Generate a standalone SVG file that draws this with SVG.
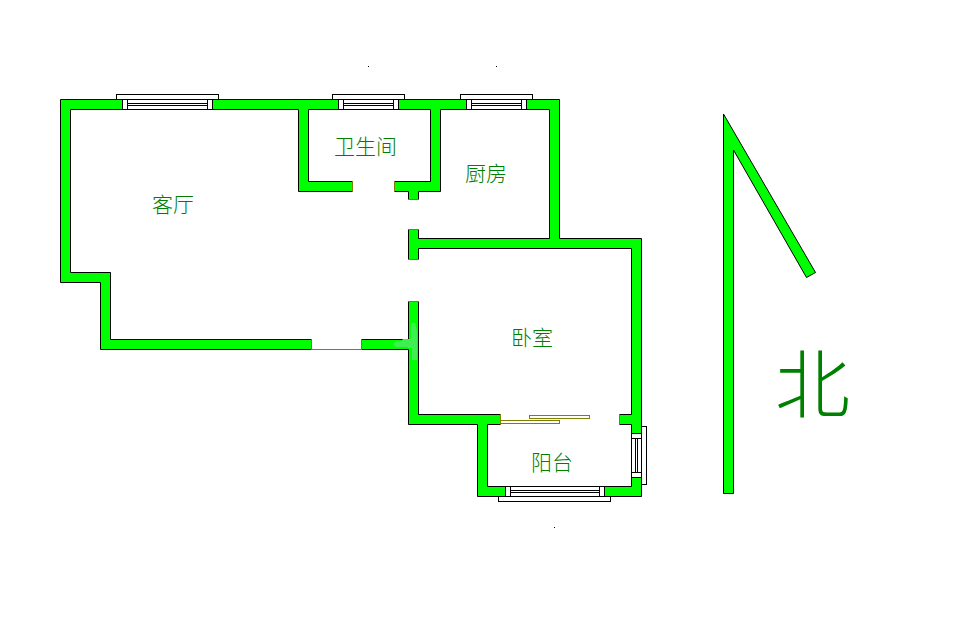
<svg xmlns="http://www.w3.org/2000/svg" width="967" height="636" viewBox="0 0 967 636">
<style>
.wall{fill:#00ff00;stroke:#000;stroke-width:1;stroke-linejoin:miter}
.win{fill:#fff;stroke:#000;stroke-width:1}
.rail{fill:none;stroke:#000;stroke-width:1}
.end{fill:none;stroke:#808000;stroke-width:1}
.door{fill:#fff;stroke:#808000;stroke-width:1}
.label{font-family:"Noto Sans CJK SC",sans-serif;font-size:21px;fill:#008000;font-weight:300}
.north{font-family:"Noto Sans CJK SC",sans-serif;font-size:75px;fill:#008000;font-weight:300}
</style>
<rect width="967" height="636" fill="#fff"/>
<g id="walls">
<polygon class="wall" points="311.5,339.5 110.5,339.5 110.5,272.5 70.5,272.5 70.5,109.5 298.5,109.5 298.5,191.5 352.5,191.5 352.5,181.5 308.5,181.5 308.5,109.5 430.5,109.5 430.5,181.5 394.5,181.5 394.5,191.5 408.5,191.5 408.5,199.5 418.5,199.5 418.5,191.5 440.5,191.5 440.5,109.5 549.5,109.5 549.5,238.5 418.5,238.5 418.5,229.5 408.5,229.5 408.5,259.5 418.5,259.5 418.5,248.5 631.5,248.5 631.5,414.5 619.5,414.5 619.5,424.5 631.5,424.5 631.5,486.5 487.5,486.5 487.5,424.5 500.5,424.5 500.5,414.5 418.5,414.5 418.5,301.5 408.5,301.5 408.5,339.5 361.5,339.5 361.5,349.5 408.5,349.5 408.5,424.5 477.5,424.5 477.5,496.5 641.5,496.5 641.5,238.5 559.5,238.5 559.5,99.5 60.5,99.5 60.5,282.5 100.5,282.5 100.5,349.5 311.5,349.5"/>
<path class="end" d="M311.5 339v11M361.5 339v11M311.5 349.5h50M352.5 181v11M394.5 181v11M408 199.5h11M408 229.5h11M408 259.5h11M408 301.5h11M500.5 414v11M619.5 414v11"/>
<path fill="#3fee50" d="M411 323h4l2 8v29h-5v-12h-4v-1h-12l-3-3 4-3 3 1 3-3h8z"/>
</g>
<g id="window-living">
<rect class="win" x="116.5" y="94.5" width="102" height="5"/>
<rect class="win" x="122.5" y="99.5" width="90" height="10"/>
<path class="rail" d="M127 103.5h81M127 105.5h81"/>
<rect class="win" x="122.5" y="99.5" width="5" height="10"/>
<rect class="win" x="207.5" y="99.5" width="5" height="10"/>
</g>
<g id="window-bath">
<rect class="win" x="332.5" y="94.5" width="72" height="5"/>
<rect class="win" x="338.5" y="99.5" width="60" height="10"/>
<path class="rail" d="M343 103.5h51M343 105.5h51"/>
<rect class="win" x="338.5" y="99.5" width="5" height="10"/>
<rect class="win" x="393.5" y="99.5" width="5" height="10"/>
</g>
<g id="window-kitchen">
<rect class="win" x="460.5" y="94.5" width="72" height="5"/>
<rect class="win" x="466.5" y="99.5" width="60" height="10"/>
<path class="rail" d="M471 103.5h51M471 105.5h51"/>
<rect class="win" x="466.5" y="99.5" width="5" height="10"/>
<rect class="win" x="521.5" y="99.5" width="5" height="10"/>
</g>
<g id="window-balcony-south">
<rect class="win" x="498.5" y="496.5" width="112" height="5"/>
<rect class="win" x="505.5" y="486.5" width="99" height="10"/>
<path class="rail" d="M510 490.5h90M510 492.5h90"/>
<rect class="win" x="505.5" y="486.5" width="5" height="10"/>
<rect class="win" x="599.5" y="486.5" width="5" height="10"/>
</g>
<g id="window-balcony-east">
<rect class="win" x="641.5" y="426.5" width="5" height="58"/>
<rect class="win" x="631.5" y="433.5" width="10" height="44"/>
<path class="rail" d="M635.5 438v35M637.5 438v35"/>
<rect class="win" x="631.5" y="433.5" width="10" height="5"/>
<rect class="win" x="631.5" y="472.5" width="10" height="5"/>
</g>
<g id="sliding-door">
<rect class="door" x="529.5" y="415.5" width="60" height="3"/>
<rect class="door" x="500.5" y="420.5" width="59" height="3"/>
</g>
<g id="north-arrow">
<polygon class="wall" points="723.5,114 723.5,493.5 733.5,493.5 733.5,150 806.5,277.5 815.5,272.5"/>
</g>
<g id="labels">
<text class="label" x="152" y="212">客厅</text>
<text class="label" x="334" y="154">卫生间</text>
<text class="label" x="465" y="181">厨房</text>
<text class="label" x="511" y="345">卧室</text>
<text class="label" x="531" y="470">阳台</text>
<text class="north" x="775" y="412">北</text>
</g>
<g id="dots" fill="#000">
<rect x="368" y="66" width="1" height="1"/>
<rect x="496" y="66" width="1" height="1"/>
<rect x="554" y="527" width="1" height="1"/>
</g>
</svg>
